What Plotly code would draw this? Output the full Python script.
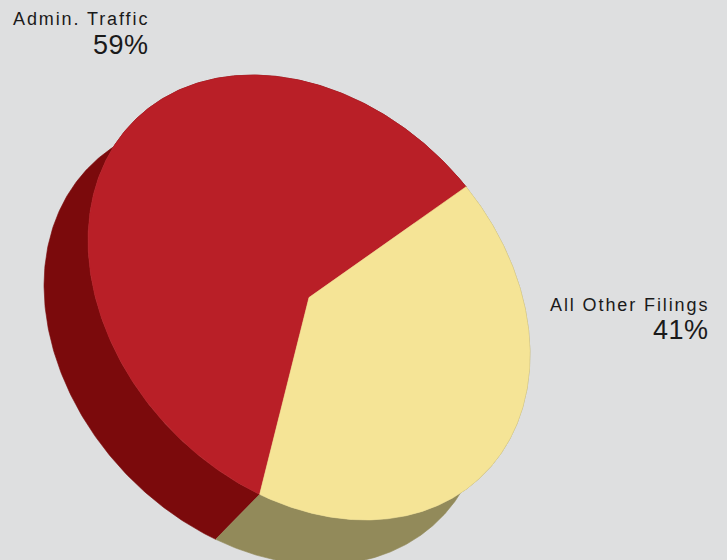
import numpy as np
import plotly.graph_objects as go

# ---- data ----
labels = ["Admin. Traffic", "All Other Filings"]
values = [59, 41]

# ---- style ----
top_colors = ["#B91F27", "#F5E496"]
side_colors = ["#7B0A0C", "#928A5A"]
bg = "#DEDFE0"

W, H = 727, 560
cx, cy = 309, 297.5          # centre of the top face (pixels)
a, b = 248.5, 191.2          # semi-axes of the tilted disc
rot = np.deg2rad(45.75)      # tilt of the major axis
dx, dy = -44, 45             # extrusion (thickness) offset
total = float(sum(values))
# the last slice starts at disc angle -83 deg; first slice precedes it
start = np.deg2rad(-83) - 2 * np.pi * values[0] / total


def ellipse_pt(t, ox=0.0, oy=0.0):
    u = a * np.cos(t)
    v = b * np.sin(t)
    x = cx + u * np.cos(rot) - v * np.sin(rot) + ox
    y = cy + u * np.sin(rot) + v * np.cos(rot) + oy
    return x, y


bounds = []
acc = start
for v in values:
    t1 = acc
    t2 = acc + 2 * np.pi * v / total
    bounds.append((t1, t2))
    acc = t2

fig = go.Figure()

# side walls
for (t1, t2), col in zip(bounds, side_colors):
    ts = np.linspace(t1, t2, 300)
    xt, yt = ellipse_pt(ts)
    xb, yb = ellipse_pt(ts[::-1], dx, dy)
    xs = np.concatenate([xt, xb, xt[:1]])
    ys = np.concatenate([yt, yb, yt[:1]])
    fig.add_trace(go.Scatter(x=xs, y=ys, mode="lines", fill="toself",
                             fillcolor=col, line=dict(width=0.6, color=col),
                             hoverinfo="skip", showlegend=False))

# top faces
for (t1, t2), col, lab, v in zip(bounds, top_colors, labels, values):
    ts = np.linspace(t1, t2, 300)
    xt, yt = ellipse_pt(ts)
    xs = np.concatenate([[cx], xt, [cx]])
    ys = np.concatenate([[cy], yt, [cy]])
    fig.add_trace(go.Scatter(x=xs, y=ys, mode="lines", fill="toself",
                             fillcolor=col, line=dict(width=0.6, color=col),
                             name=lab, text=f"{lab}: {v}%", hoverinfo="text",
                             showlegend=False))

# labels
font_fam = "Liberation Sans, Arial"
label_pos = [(151, 31, 62), (711, 317, 347)]
for lab, v, (xr, y1, y2) in zip(labels, values, label_pos):
    fig.add_annotation(x=xr, y=y1, showarrow=False, xanchor="right",
                       yanchor="bottom", xref="x", yref="y",
                       text=f'<span style="letter-spacing:1.9px">{lab}</span>',
                       font=dict(family=font_fam, size=18, color="#1a1a1a"))
    fig.add_annotation(x=xr, y=y2, showarrow=False, xanchor="right",
                       yanchor="bottom", xref="x", yref="y",
                       text=f'<span style="letter-spacing:0.5px">{v}%</span>',
                       font=dict(family=font_fam, size=27, color="#1a1a1a"))

fig.update_xaxes(range=[0, W], visible=False, fixedrange=True)
fig.update_yaxes(range=[H, 0], visible=False, fixedrange=True)
fig.update_layout(width=W, height=H, margin=dict(l=0, r=0, t=0, b=0),
                  paper_bgcolor=bg, plot_bgcolor=bg)

fig.write_html("out.html", config={"displayModeBar": False},
               post_script="document.body.style.margin='0';")
